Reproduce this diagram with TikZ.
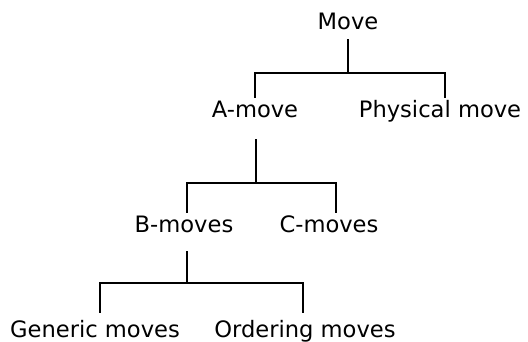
\documentclass[tikz,border=0pt]{standalone}
\usepackage{fontspec}
\setmainfont{DejaVu Sans}
\usetikzlibrary{calc}
\begin{document}
\begin{tikzpicture}[x=1pt,y=1pt,
  lbl/.style={anchor=base,inner sep=0pt,font=\fontsize{22.6}{26}\selectfont},
  conn/.style={line width=2pt,line cap=rect}]
\useasboundingbox (0,0) rectangle (528,-342);
\node[lbl] (move) at (348,-30) {Move};
\node[lbl] (amove) at (255,-118) {A-move};
\node[lbl] (phys) at (440,-118) {Physical move};
\node[lbl] (bmoves) at (184,-233) {B-moves};
\node[lbl] (cmoves) at (329,-233) {C-moves};
\node[lbl] (gen) at (95,-337) {Generic moves};
\node[lbl] (ord) at (305,-337) {Ordering moves};
% Move
\draw[conn] ($(move.base)+(0,-10)$) -- ($(move.base)+(0,-43)$) coordinate (j1);
\draw[conn] ($(amove.base)+(0,21)$) |- (j1) -| ($(phys.base)+(5,21)$);
% A-move
\draw[conn] ($(amove.base)+(1,-22)$) -- ($(amove.base)+(1,-65)$) coordinate (j2);
\draw[conn] ($(bmoves.base)+(3,21)$) |- (j2) -| ($(cmoves.base)+(7,21)$);
% B-moves
\draw[conn] ($(bmoves.base)+(3,-19)$) -- ($(bmoves.base)+(3,-50)$) coordinate (j3);
\draw[conn] ($(gen.base)+(5,25)$) |- (j3) -| ($(ord.base)+(-2,25)$);
\end{tikzpicture}
\end{document}
